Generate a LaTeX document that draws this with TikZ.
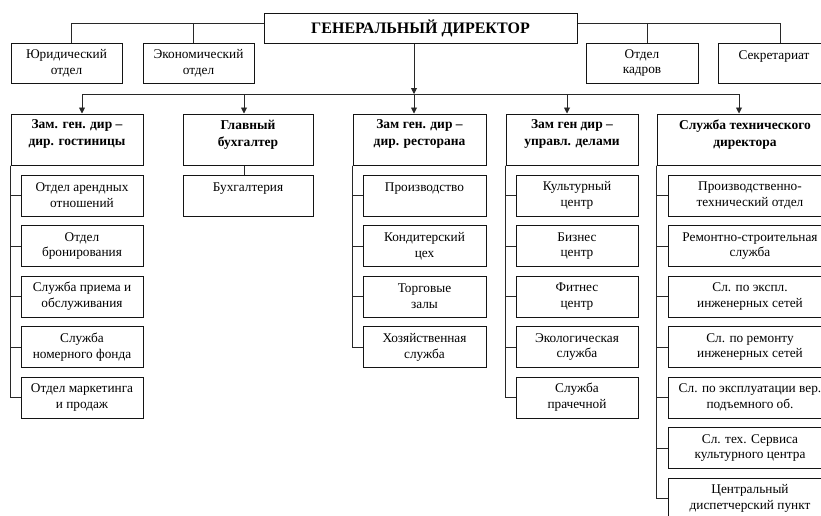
\documentclass[tikz,border=0pt]{standalone}
\usepackage{fontspec}
\setmainfont{Liberation Serif}
\usetikzlibrary{arrows.meta}

\begin{document}
\begin{tikzpicture}[x=1pt,y=-1pt,
  box/.style={draw=boxdraw, line width=1pt, align=center, inner sep=2pt,
    minimum height=41pt, text=boxtext, font=\fontsize{13.3}{15.8}\selectfont},
  head/.style={box, minimum height=51pt, font=\fontsize{13.5}{17}\selectfont\bfseries},
  link/.style={draw=linkdraw, line width=0.9pt},
  arr/.style={link, -{Triangle[length=6pt,width=6pt]}}]
%Define all colors here.
\definecolor{boxdraw}{RGB}{20,20,20}
\definecolor{boxtext}{RGB}{0,0,0}
\definecolor{linkdraw}{RGB}{40,40,40}

\useasboundingbox (0,0) rectangle (821,515);
\clip (0,0) rectangle (821,515);

%Top level.
\node(gd) at (420.5,28) [box, minimum width=313pt, minimum height=30pt,
  font=\fontsize{16}{18}\selectfont\bfseries] {ГЕНЕРАЛЬНЫЙ ДИРЕКТОР};

\node(jur) at (66.5,63) [box, minimum width=111pt, minimum height=40pt] {Юридический\\отдел};
\node(eco) at (198.5,63) [box, minimum width=111pt, minimum height=40pt] {Экономический\\отдел};
\node(kadr) at (642,63) [box, minimum width=112pt, minimum height=40pt] {Отдел\\кадров};
\node(sekr) at (774,63) [box, minimum width=112pt, minimum height=40pt] {Секретариат\\\mbox{}};

\draw[link] ([yshift=5pt]gd.west) -| ([xshift=4.5pt]jur.north);
\draw[link] ([yshift=5pt]gd.west) -| ([xshift=-5.5pt]eco.north);
\draw[link] ([yshift=5pt]gd.east) -| ([xshift=5pt]kadr.north);
\draw[link] ([yshift=5pt]gd.east) -| ([xshift=6pt]sekr.north);

%Deputies.
\node(hotel) at (77,139.5) [head, minimum width=132pt] {Зам. ген. дир –\\дир. гостиницы\\[-4pt]\mbox{}};
\node(buh) at (248,139.5) [head, minimum width=130pt] {Главный\\бухгалтер\\[-4pt]\mbox{}};
\node(rest) at (419.5,139.5) [head, minimum width=133pt] {Зам ген. дир –\\дир. ресторана\\[-4pt]\mbox{}};
\node(uprav) at (572,139.5) [head, minimum width=132pt] {Зам ген дир –\\управл. делами\\[-4pt]\mbox{}};
\node(tech) at (745,139.5) [head, minimum width=176pt] {Служба технического\\директора\\[-4pt]\mbox{}};

\coordinate(bus) at (414,94);
\draw[arr] ([xshift=-6.5pt]gd.south) -- (bus);
\draw[link] ([xshift=5pt]hotel.north |- bus) -- ([xshift=-6pt]tech.north |- bus);
\foreach \m/\dx in {hotel/5,buh/-4,rest/-5.5,uprav/-5,tech/-6}
  \draw[arr] ([xshift=\dx pt]\m.north |- bus) -- ([xshift=\dx pt]\m.north);

%Hotel.
\node(h1) at (82,195.5) [box, minimum width=122pt] {Отдел арендных\\отношений};
\node(h2) at (82,246) [box, minimum width=122pt] {Отдел\\бронирования};
\node(h3) at (82,296.5) [box, minimum width=122pt] {Служба приема и\\обслуживания};
\node(h4) at (82,347) [box, minimum width=122pt] {Служба\\номерного фонда};
\node(h5) at (82,397.5) [box, minimum width=122pt] {Отдел маркетинга\\и продаж};

%Accounting.
\node(b1) at (248,195.5) [box, minimum width=130pt] {Бухгалтерия\\\mbox{}};
\draw[link] ([xshift=-4pt]buh.south) -- ([xshift=-4pt]b1.north);

%Restaurant.
\node(r1) at (424.5,195.5) [box, minimum width=123pt] {Производство\\\mbox{}};
\node(r2) at (424.5,246) [box, minimum width=123pt] {Кондитерский\\цех};
\node(r3) at (424.5,296.5) [box, minimum width=123pt] {Торговые\\залы};
\node(r4) at (424.5,347) [box, minimum width=123pt] {Хозяйственная\\служба};

%Administration.
\node(u1) at (577,195.5) [box, minimum width=122pt] {Культурный\\центр};
\node(u2) at (577,246) [box, minimum width=122pt] {Бизнес\\центр};
\node(u3) at (577,296.5) [box, minimum width=122pt] {Фитнес\\центр};
\node(u4) at (577,347) [box, minimum width=122pt] {Экологическая\\служба};
\node(u5) at (577,397.5) [box, minimum width=122pt] {Служба\\прачечной};

%Technical.
\node(t1) at (750,195.5) [box, minimum width=164pt] {Производственно-\\технический отдел};
\node(t2) at (750,246) [box, minimum width=164pt] {Ремонтно-строительная\\служба};
\node(t3) at (750,296.5) [box, minimum width=164pt] {Сл. по экспл.\\инженерных сетей};
\node(t4) at (750,347) [box, minimum width=164pt] {Сл. по ремонту\\инженерных сетей};
\node(t5) at (750,397.5) [box, minimum width=164pt] {Сл. по эксплуатации вер.\\подъемного об.};
\node(t6) at (750,448) [box, minimum width=164pt] {Сл. тех. Сервиса\\культурного центра};
\node(t7) at (750,498.5) [box, minimum width=164pt] {Центральный\\диспетчерский пункт};

\foreach \c in {h1,h2,h3,h4,h5} \draw[link] (hotel.south west) |- (\c.west);
\foreach \c in {r1,r2,r3,r4} \draw[link] (rest.south west) |- (\c.west);
\foreach \c in {u1,u2,u3,u4,u5} \draw[link] (uprav.south west) |- (\c.west);
\foreach \c in {t1,t2,t3,t4,t5,t6,t7} \draw[link] (tech.south west) |- (\c.west);
\end{tikzpicture}
\end{document}
